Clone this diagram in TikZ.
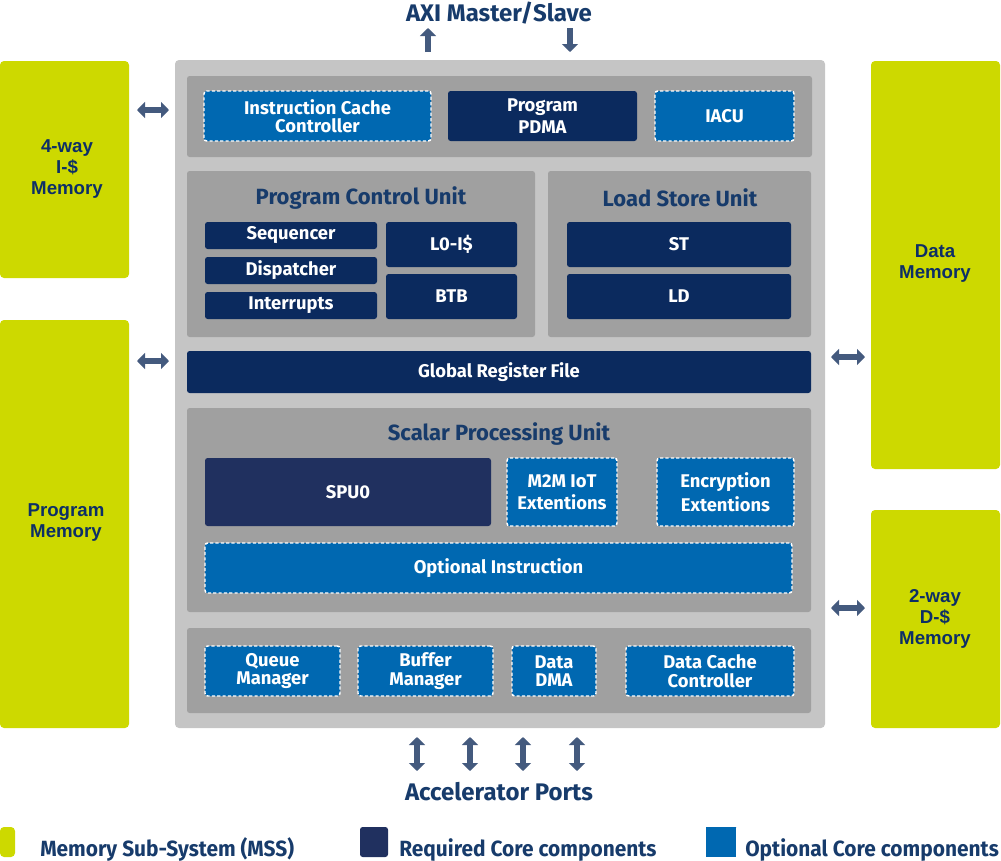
\documentclass[tikz,border=0pt]{standalone}
\usepackage{fontspec}
\setmainfont{Fira Sans}
\newfontfamily\legf[FakeStretch=0.95]{Fira Sans}
\newfontfamily\arialf{Liberation Sans}
\usetikzlibrary{arrows.meta}
\definecolor{outergray}{HTML}{C5C5C5}
\definecolor{panelgray}{HTML}{A0A0A0}
\definecolor{optblue}{HTML}{0068B1}
\definecolor{navy}{HTML}{0B2A5E}
\definecolor{spunavy}{HTML}{20305F}
\definecolor{mssgreen}{HTML}{CDD900}
\definecolor{arrowc}{HTML}{445A7E}
\definecolor{titlec}{HTML}{173B6B}
\definecolor{memtext}{HTML}{0D2F66}
\tikzset{
  base/.style={inner sep=0pt, outer sep=0pt, rounded corners=2pt, align=center, font=\bfseries\fontsize{13.8}{13.8}\selectfont, text=white},
  reqbox/.style={base, fill=navy},
  spubox/.style={base, fill=spunavy},
  optbox/.style={base, fill=optblue, draw=white, line width=1.1pt, dash pattern=on 2.4pt off 1.6pt},
  panel/.style={inner sep=0pt, outer sep=0pt, rounded corners=2pt, fill=panelgray},
  outer/.style={inner sep=0pt, outer sep=0pt, rounded corners=3pt, fill=outergray},
  membox/.style={inner sep=0pt, outer sep=0pt, rounded corners=3pt, fill=mssgreen},
  memtxt/.style={inner sep=0pt, align=center, text=memtext, font=\arialf\bfseries\fontsize{14}{15.75}\selectfont},
  ttl/.style={text=titlec, font=\bfseries\fontsize{16.5}{18}\selectfont, inner sep=0pt},
  bigttl/.style={text=titlec, font=\bfseries\fontsize{18}{20}\selectfont, inner sep=0pt},
  legtxt/.style={text=titlec, font=\legf\bfseries\fontsize{16.5}{18}\selectfont, inner sep=0pt, anchor=base west},
  dblarrow/.style={draw=arrowc, line width=5pt, {Triangle[width=12pt,length=6pt]}-{Triangle[width=12pt,length=6pt]}},
  onearrow/.style={draw=arrowc, line width=5pt, -{Triangle[width=12pt,length=6pt]}},
}
\newcommand\bx[7]{\node[#1, minimum width={(#5-#3)*0.75pt}, minimum height={(#6-#4)*0.75pt}] (#2) at ({(#3+#5)/2},{(#4+#6)/2}) {#7};}
\begin{document}
\begin{tikzpicture}[x=0.75pt,y=-0.75pt]
\useasboundingbox (0,0) rectangle (1001,861);
% memories
\bx{membox}{imem}{0}{61}{129}{278}{}
\node[memtxt] (imemt) at (67,169) {4-way\\I-\$\\Memory};
\bx{membox}{pmem}{0}{320}{129}{728}{}
\node[memtxt] (pmemt) at (66,523) {Program\\Memory};
\bx{membox}{dmem}{871}{61}{1000}{469}{}
\node[memtxt] (dmemt) at (935,264) {Data\\Memory};
\bx{membox}{dcmem}{871}{510}{1000}{728}{}
\node[memtxt] (dcmemt) at (935,619) {2-way\\D-\$\\Memory};
% outer core
\bx{outer}{core}{175}{60}{825}{728}{}
% top panel
\bx{panel}{toppanel}{187}{76}{812}{157}{}
\bx{optbox}{icc}{204}{91}{431}{141}{Instruction Cache\\Controller}
\bx{reqbox}{pdma}{448}{91}{637}{141}{Program\\[3pt]PDMA}
\bx{optbox}{iacu}{655}{91}{794}{141}{IACU}
% PCU
\bx{panel}{pcu}{187}{171}{535}{337}{}
\node[ttl] (pcut) at (361,198) {Program Control Unit};
\bx{reqbox}{seq}{205}{222}{377}{249}{Sequencer}
\bx{reqbox}{disp}{205}{257}{377}{284}{Dispatcher}
\bx{reqbox}{intr}{205}{292}{377}{319}{Interrupts}
\bx{reqbox}{l0}{386}{222}{517}{267}{L0-I\$}
\bx{reqbox}{btb}{386}{274}{517}{319}{BTB}
% LSU
\bx{panel}{lsu}{548}{171}{811}{337}{}
\node[ttl] (lsut) at (680,198) {Load Store Unit};
\bx{reqbox}{st}{567}{222}{791}{267}{ST}
\bx{reqbox}{ld}{567}{274}{791}{319}{LD}
% GRF
\bx{reqbox}{grf}{187}{351}{811}{393}{Global Register File}
% SPU
\bx{panel}{spu}{187}{408}{811}{612}{}
\node[ttl] (sput) at (499,434) {Scalar Processing Unit};
\bx{spubox}{spu0}{205}{458}{491}{526}{SPU0}
\bx{optbox}{m2m}{507}{458}{617}{526}{M2M IoT\\[3pt]Extentions}
\bx{optbox}{enc}{657}{458}{794}{526}{Encryption\\[3pt]Extentions}
\bx{optbox}{opti}{205}{543}{792}{593}{Optional Instruction}
% bottom
\bx{panel}{botpanel}{187}{628}{811}{713}{}
\bx{optbox}{qm}{205}{646}{340}{696}{Queue\\Manager}
\bx{optbox}{bm}{358}{646}{493}{696}{Buffer\\Manager}
\bx{optbox}{dma}{512}{646}{596}{696}{Data\\DMA}
\bx{optbox}{dcc}{626}{646}{794}{696}{Data Cache\\Controller}
% titles
\node[bigttl] (axi) at (499,13) {AXI Master/Slave};
\node[bigttl] (acc) at (499,792) {Accelerator Ports};
% arrows
\coordinate (a1s) at (137,110); \coordinate (a1e) at (169,110);
\coordinate (a2s) at (137,361); \coordinate (a2e) at (169,361);
\coordinate (a3s) at (831,357); \coordinate (a3e) at (865,357);
\coordinate (a4s) at (831,608); \coordinate (a4e) at (865,608);
\draw[dblarrow] (a1s) -- (a1e);
\draw[dblarrow] (a2s) -- (a2e);
\draw[dblarrow] (a3s) -- (a3e);
\draw[dblarrow] (a4s) -- (a4e);
\coordinate (up1) at (428,52); \coordinate (up2) at (428,28);
\coordinate (dn1) at (570,28); \coordinate (dn2) at (570,52);
\draw[onearrow] (up1) -- (up2);
\draw[onearrow] (dn1) -- (dn2);
\foreach \x [count=\i] in {417,470,523,577}{
  \coordinate (p\i a) at (\x,737); \coordinate (p\i b) at (\x,771);
  \draw[dblarrow] (p\i a) -- (p\i b);
}
% legend
\bx{membox}{lg1}{0}{827}{15}{857}{}
\node[legtxt] (lt1) at (40,856) {Memory Sub-System (MSS)};
\bx{spubox}{lg2}{360}{827}{388}{857}{}
\node[legtxt] (lt2) at (399,856) {Required Core components};
\node[inner sep=0pt, outer sep=0pt, fill=optblue, draw=optblue, line width=1pt, dash pattern=on 1.5pt off 1pt, minimum width=22pt, minimum height=22pt] (lg3) at (721,842) {};
\node[legtxt] (lt3) at (745,856) {Optional Core components};
\end{tikzpicture}
\end{document}
